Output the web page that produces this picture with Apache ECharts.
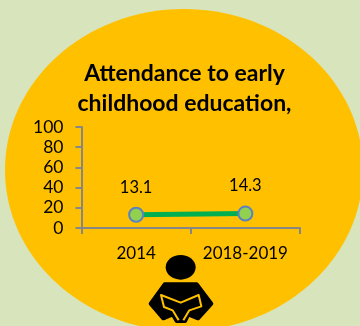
<!DOCTYPE html>
<html>
<head>
<meta charset="utf-8">
<style>html,body{margin:0;padding:0;background:#d8e4bc}#c{width:360px;height:326px}</style>
<script src="https://cdn.jsdelivr.net/npm/echarts@6/dist/echarts.min.js"></script>
</head>
<body>
<div id="c"></div>
<script>
const categories = ['2014', '2018-2019'];
const attendance = [13.1, 14.3];
const titleLines = 'Attendance to early\nchildhood education,';
const yMin = 0, yMax = 100, yStep = 20;

const chart = echarts.init(document.getElementById('c'), null, {renderer: 'canvas'});
const FONT = 'Lato, "Open Sans", sans-serif';
const AXIS = '#868686';
const GOLD = '#ffc000';
chart.setOption({
  animation: false,
  backgroundColor: '#d8e4bc',
  title: {
    text: titleLines, left: 179.5, top: 54, textAlign: 'center',
    textStyle: {fontFamily: FONT, fontWeight: 'bold', fontSize: 23, lineHeight: 30, color: '#000'}
  },
  grid: {left: 81.5, right: 60, top: 127, bottom: 98},
  xAxis: {
    type: 'category', data: categories, boundaryGap: true,
    axisLine: {lineStyle: {color: AXIS, width: 2}},
    axisTick: {show: true, length: 6, alignWithLabel: false, lineStyle: {color: AXIS, width: 2}},
    axisLabel: {fontFamily: FONT, fontSize: 17, color: '#000', margin: 17, interval: 0}
  },
  yAxis: {
    type: 'value', min: yMin, max: yMax, interval: yStep,
    splitLine: {show: false},
    axisLine: {show: true, lineStyle: {color: AXIS, width: 2}},
    axisTick: {show: true, length: 6, lineStyle: {color: AXIS, width: 2}},
    axisLabel: {fontFamily: FONT, fontSize: 17.5, color: '#000', margin: 18}
  },
  graphic: [
    {type: 'ellipse', z: -10, silent: true, shape: {cx: 184, cy: 170, rx: 179, ry: 161}, style: {fill: GOLD}},
    {type: 'group', z: 5, silent: true, x: 130, y: 245, scaleX: 1/3, scaleY: 1/3, children: [
      {type: 'ellipse', z: 5, shape: {cx: 152, cy: 67, rx: 45, ry: 37}, style: {fill: '#000'}},
      {type: 'polygon', z: 5, shape: {points: [[104,118],[200,118],[244,176],[204,220],[175,208],[165,228],[140,228],[128,208],[100,220],[62,176]]},
        style: {fill: '#000', stroke: '#000', lineWidth: 12, lineJoin: 'round'}},
      {type: 'polyline', z: 6, shape: {points: [[146,226],[128,196],[102,186],[93,150],[152,173],[206,150],[214,184],[178,196],[160,226]]},
        style: {fill: 'none', stroke: GOLD, lineWidth: 6, lineJoin: 'round'}}
    ]}
  ],
  series: [{
    type: 'line', data: attendance,
    symbol: 'circle', symbolSize: 14,
    lineStyle: {color: '#00b050', width: 5},
    itemStyle: {color: '#92d050', borderColor: '#5b82c0', borderWidth: 2},
    label: {show: true, position: 'top', distance: 11, fontFamily: FONT, fontSize: 16.5, color: '#000',
      formatter: p => p.value.toFixed(1)}
  }]
});
</script>
</body>
</html>
